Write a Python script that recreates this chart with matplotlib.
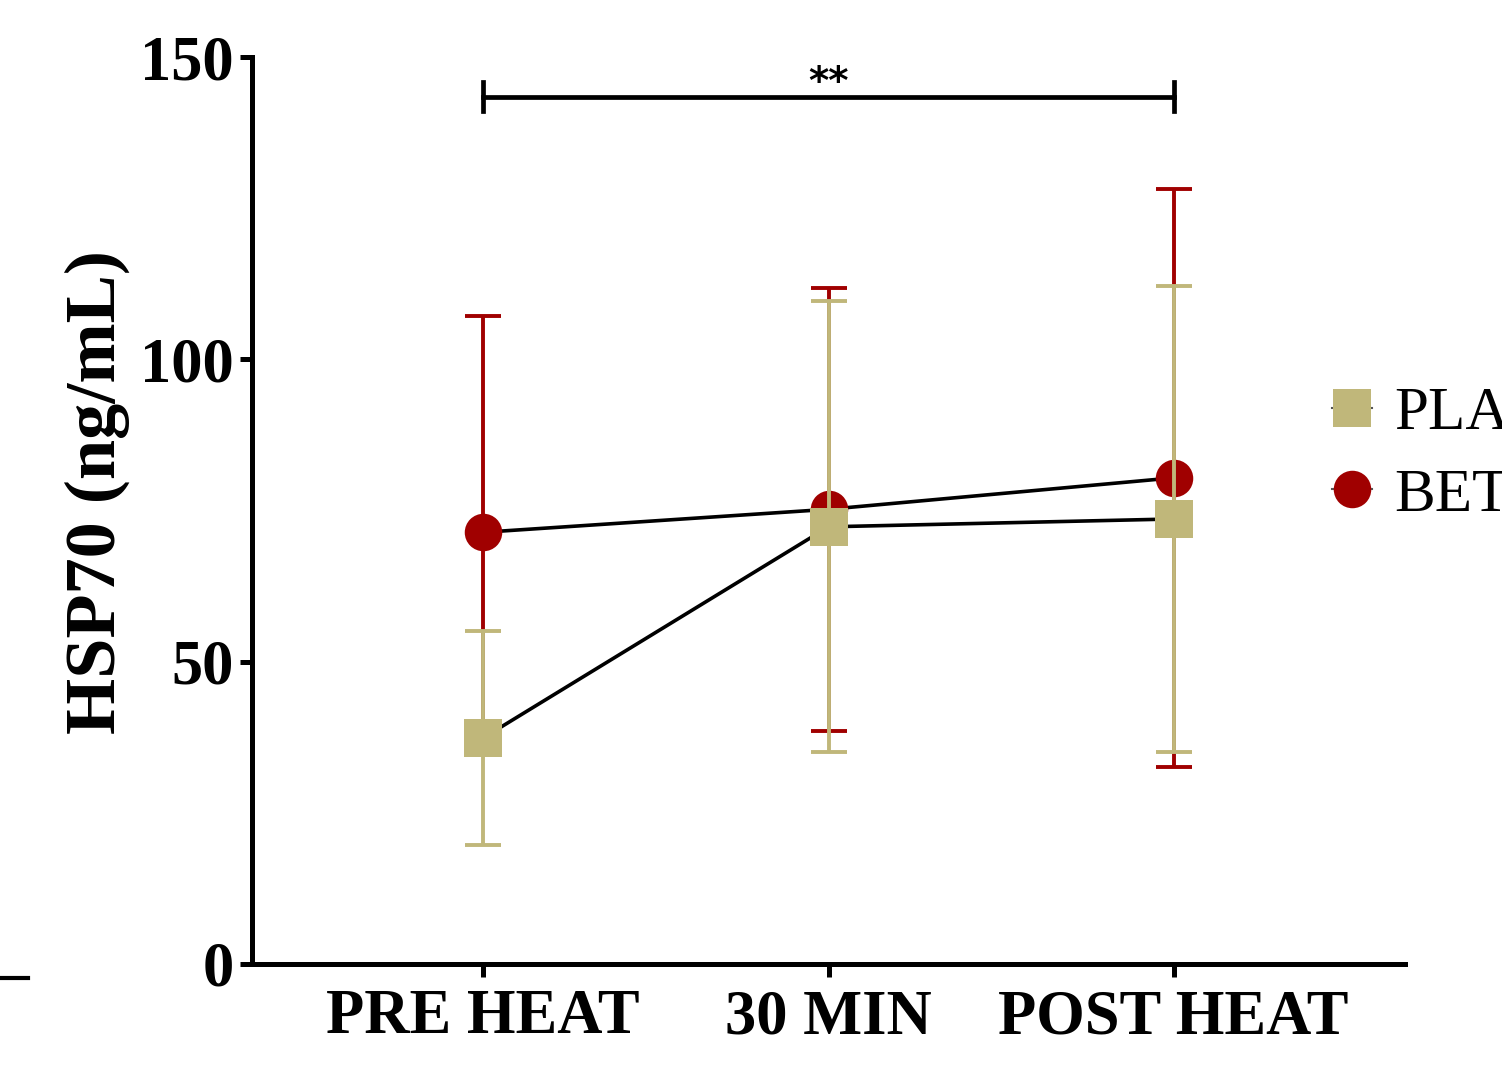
import matplotlib
matplotlib.use("Agg")
import matplotlib.pyplot as plt
from matplotlib.lines import Line2D

categories = ["PRE HEAT", "30 MIN", "POST HEAT"]
pla_mean = [37.4, 72.3, 73.6]
pla_sd = [17.7, 37.3, 38.5]
bet_mean = [71.4, 75.2, 80.4]
bet_sd = [35.7, 36.6, 47.8]
yticks = [0, 50, 100, 150]
sig_text = "**"
sig_y = 143.4

TAN = "#C0B77A"
RED = "#A00000"

plt.rcParams['font.family'] = ['Liberation Serif', 'DejaVu Serif']
fig = plt.figure(figsize=(15.02, 10.82), dpi=100)
ax = fig.add_axes([252/1502, 1-964/1082, (1405-252)/1502, (964-57)/1082])

x = list(range(len(categories)))

# connecting lines
ax.plot(x, bet_mean, color="black", lw=2.6, zorder=1)
ax.plot(x, pla_mean, color="black", lw=2.6, zorder=1)

# BET
ax.errorbar(x, bet_mean, yerr=bet_sd, fmt="none", ecolor=RED, elinewidth=2.8,
            capsize=13, capthick=2.8, zorder=2)
ax.plot(x, bet_mean, linestyle="none", marker="o", ms=27, color=RED,
        markeredgewidth=0, zorder=3)
# PLA
ax.errorbar(x, pla_mean, yerr=pla_sd, fmt="none", ecolor=TAN, elinewidth=2.8,
            capsize=13, capthick=2.8, zorder=4)
ax.plot(x, pla_mean, linestyle="none", marker="s", ms=27, color=TAN,
        markeredgewidth=0, zorder=5)

# significance bracket
ax.plot([x[0], x[2]], [sig_y, sig_y], color="black", lw=3.4, zorder=6)
ax.plot([x[0], x[0]], [sig_y - 2.4, sig_y + 2.4], color="black", lw=3.4, zorder=6)
ax.plot([x[2], x[2]], [sig_y - 2.4, sig_y + 2.4], color="black", lw=3.4, zorder=6)
ax.text((x[0] + x[2]) / 2, sig_y - 0.9, sig_text, ha="center", va="bottom",
        fontsize=28, fontweight="bold", family=["DejaVu Sans"])

ax.set_xlim(-0.67, 2.67)
ax.set_ylim(0, 150)
ax.set_yticks(yticks)
ax.set_yticklabels([str(v) for v in yticks])
ax.set_xticks(x)
ax.set_xticklabels(categories)

for s in ["top", "right"]:
    ax.spines[s].set_visible(False)
for s in ["left", "bottom"]:
    ax.spines[s].set_linewidth(3.6)
ax.tick_params(axis="both", width=3.6, length=9, labelsize=45)
ax.tick_params(axis="x", pad=9)
ax.tick_params(axis="y", pad=4)
for lab in ax.get_xticklabels() + ax.get_yticklabels():
    lab.set_fontweight("bold")
ax.set_ylabel("HSP70 (ng/mL)", fontsize=52, fontweight="bold")
ax.yaxis.set_label_coords(-0.106, 0.52)

handles = [
    Line2D([0], [0], color="#555555", lw=1.5, marker="s", ms=27, markerfacecolor=TAN,
           markeredgewidth=0, label="PLA"),
    Line2D([0], [0], color="#555555", lw=1.5, marker="o", ms=27, markerfacecolor=RED,
           markeredgewidth=0, label="BET"),
]
leg = fig.legend(handles=handles, loc="upper left", bbox_to_anchor=(1308/1502, 1-362/1082),
                 frameon=False, fontsize=44, handlelength=0.65, handletextpad=0.36,
                 labelspacing=0.42, borderaxespad=0)

fig.add_artist(Line2D([0, 28/1502], [1-978/1082, 1-978/1082], color="black", lw=3,
                      transform=fig.transFigure))

fig.savefig("out.png", dpi=100)
